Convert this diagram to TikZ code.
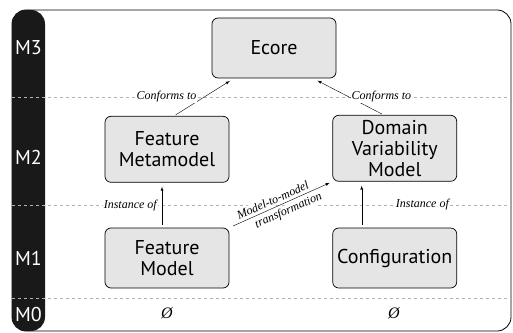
\documentclass[tikz,border=0pt]{standalone}
\usepackage{amsmath,amsfonts,amssymb}
\usepackage{fontspec}
\newfontfamily\boxfont{PT Sans}
\newfontfamily\relfont{Liberation Serif}
\usetikzlibrary{positioning,arrows,calc}

\begin{document}
\begin{tikzpicture}[>=latex,x=1pt,y=1pt,
  model/.style={draw,line width=0.7pt,rounded corners=6pt,fill=black!10,minimum width=124pt,minimum height=60pt,align=center,inner sep=2pt,font=\boxfont\fontsize{20}{21}\selectfont},
  rel/.style={font=\relfont\itshape\fontsize{12}{13}\selectfont,fill=white,inner sep=1pt},
  level/.style={gray!60,line width=0.6pt,dash pattern=on 3pt off 3pt},
  tier/.style={text=white,font=\boxfont\fontsize{20}{21}\selectfont},
  ]
\useasboundingbox (0,0) rectangle (513,332);
\draw[rounded corners=14pt,line width=0.8pt] (12,1) rectangle (511,322);
\fill[black!90,rounded corners=14pt] (12,1) rectangle (45,322);
% meta levels
\draw[level] (12,235) -- (511,235);
\draw[level] (12,127) -- (511,127);
\draw[level] (12,34) -- (511,34);
\node[tier] (M3) at (28.5,284) {M3};
\node[tier] (M2) at (28.5,175) {M2};
\node[tier] (M1) at (28.5,74) {M1};
\node[tier] (M0) at (28.5,18) {M0};
% models
\node[model] (FM) at (167,74) {Feature\\Model};
\node[model,minimum height=66pt] (FMM) [above=45pt of FM] {Feature\\Metamodel};
\node[model] (Conf) [right=103pt of FM] {Configuration};
\node[model,minimum height=66pt] (DVM) [above=46pt of Conf] {Domain\\Variability\\Model};
\node[model] (Ecore) at (274,284) {Ecore};
\node (E1) at (167,19) {\relfont\itshape\fontsize{16}{18}\selectfont\O};
\node (E2) at (394,19) {\relfont\itshape\fontsize{16}{18}\selectfont\O};
% relations
\draw[->,shorten >=5pt,shorten <=2pt] ([xshift=7pt]FMM.north) -- ([xshift=-40pt]Ecore.south) node[rel,pos=.51,left=7pt]{Conforms to};
\draw[->,shorten >=5pt,shorten <=2pt] ([xshift=-11pt]DVM.north) -- ([xshift=39pt]Ecore.south) node[rel,pos=.5,right=2pt]{Conforms to};
\draw[->,shorten >=4pt,shorten <=3pt] ([xshift=-5pt]FM.north) -- ([xshift=-5pt]FMM.south) node[rel,midway,left=4pt]{Instance of};
\draw[->,shorten >=4pt,shorten <=3pt] ([xshift=-33pt]Conf.north) -- ([xshift=-33pt]DVM.south) node[rel,midway,right=33pt]{Instance of};
\draw[->,shorten >=3pt,shorten <=4pt] (FM.north east) -- (DVM.south west) node[rel,pos=.45,above=2pt,sloped]{Model-to-model} node[rel,pos=.54,below=2pt,sloped]{transformation};
\end{tikzpicture}
\end{document}
